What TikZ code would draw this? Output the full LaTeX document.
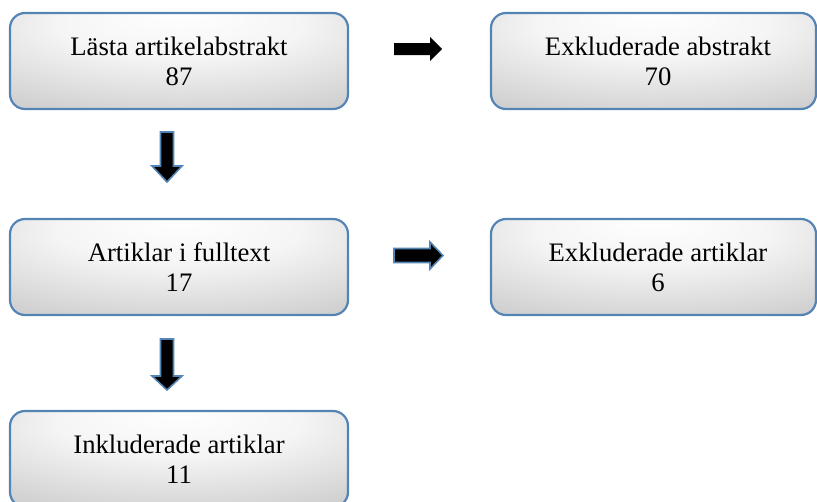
\documentclass[tikz,border=0pt]{standalone}
\usepackage{fontspec}
\setmainfont{Liberation Serif}
\definecolor{boxblue}{RGB}{84,132,180}
\pgfdeclareradialshading{boxshade}{\pgfpoint{0bp}{26bp}}{color(0bp)=(white); color(18bp)=(white!96!black); color(40bp)=(white!82!black); color(70bp)=(white!70!black)}
\tikzset{
  box/.style={draw=boxblue, line width=2.2pt, rounded corners=15pt, shading=boxshade, minimum height=96pt, inner sep=0pt},
  leftbox/.style={box, minimum width=338pt},
  rightbox/.style={box, minimum width=325pt},
  txt/.style={align=center, font=\fontsize{26.7}{30}\selectfont, inner sep=0pt},
  blockarrow/.style={fill=black, draw=boxblue, line width=1.6pt, line join=miter},
  plainarrow/.style={fill=black}
}
\begin{document}
\begin{tikzpicture}[x=1pt,y=-1pt]
\useasboundingbox (0,0) rectangle (817,501);
% boxes
\node[leftbox] (b1) at (179,61) {};
\node[txt] (t1) at (b1.center) {Lästa artikelabstrakt\\87};
\node[rightbox] (b2) at (653.5,61) {};
\node[txt] (t2) at ([xshift=4.5pt]b2.center) {Exkluderade abstrakt\\70};
\node[leftbox] (b3) at (179,267) {};
\node[txt] (t3) at (b3.center) {Artiklar i fulltext\\17};
\node[rightbox] (b4) at (653.5,267) {};
\node[txt] (t4) at ([xshift=4.5pt]b4.center) {Exkluderade artiklar\\6};
\node[leftbox] (b5) at (179,459) {};
\node[txt] (t5) at (b5.center) {Inkluderade artiklar\\11};
% arrows
\path[plainarrow] (394,43) -- (430,43) -- (430,37) -- (442,49) -- (430,61) -- (430,55) -- (394,55) -- cycle;
\path[blockarrow] (394,248.5) -- (430,248.5) -- (430,242) -- (443,255.5) -- (430,269) -- (430,262.5) -- (394,262.5) -- cycle;
\path[blockarrow] (160.5,132) -- (173.5,132) -- (173.5,166) -- (182,166) -- (167,182) -- (152,166) -- (160.5,166) -- cycle;
\path[blockarrow] (160.5,339) -- (173.5,339) -- (173.5,376) -- (182,376) -- (167,390) -- (152,376) -- (160.5,376) -- cycle;
\end{tikzpicture}
\end{document}
